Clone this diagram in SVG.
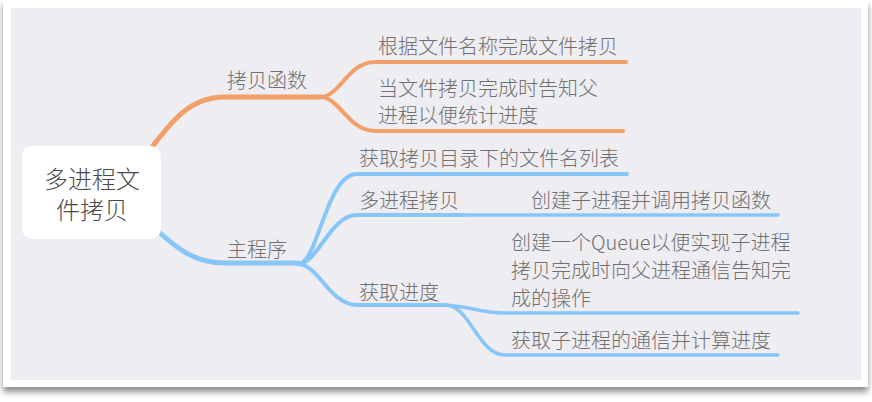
<svg xmlns="http://www.w3.org/2000/svg" width="872" height="402" viewBox="0 0 872 402">
  <defs>
    <filter id="shadow" x="-5%" y="-5%" width="110%" height="115%">
      <feDropShadow dx="0" dy="5" stdDeviation="3" flood-color="#000" flood-opacity="0.45"/>
    </filter>
    <style>
      .t { font-family: "Noto Sans CJK SC", "Noto Sans", sans-serif; font-size: 20px; font-weight: 300; fill: #707070; }
      .root { font-family: "Liberation Sans", "Noto Sans CJK SC", sans-serif; font-size: 24px; font-weight: 300; fill: #4a4a4a; text-anchor: middle; }
      .o { fill: none; stroke: #f39f6a; stroke-linecap: round; stroke-linejoin: round; }
      .b { fill: none; stroke: #88c6f7; stroke-linecap: round; stroke-linejoin: round; }
      .w5 { stroke-width: 5; }
      .w4 { stroke-width: 4; }
      .w3 { stroke-width: 3.5; }
    </style>
  </defs>
  <rect x="0" y="0" width="872" height="402" fill="#ffffff"/>
  <rect x="3" y="0" width="865" height="387" fill="#ffffff" filter="url(#shadow)"/>
  <rect x="11" y="8" width="850" height="372" fill="#eeedf2"/>

  <g id="connectors">
    <path class="o w5" d="M146,155 C172,120 190,97 225,97 L320,97"/>
    <path class="o w4" d="M320,97 C340,97 348,62 375,62 L626,62"/>
    <path class="o w4" d="M320,97 C340,97 348,131 375,131 L623,131"/>
    <path class="b w5" d="M150,224 C178,250 195,263 225,263 L298,263"/>
    <path class="b w4" d="M298,264 C318,264 326,174 357,174 L627,174"/>
    <path class="b w4" d="M298,264 C318,264 330,215 357,215 L465,215"/>
    <path class="b w3" d="M465,215 L778,215"/>
    <path class="b w4" d="M298,264 C318,264 330,305 357,305 L445,305"/>
    <path class="b w3" d="M440,305 C468,305 478,313 505,313 L798,313"/>
    <path class="b w3" d="M445,305 C470,305 478,355 505,355 L778,355"/>
  </g>

  <g id="root">
    <rect x="22" y="146" width="139" height="93" rx="10" fill="#ffffff"/>
    <text class="root" x="92" y="188">多进程文</text>
    <text class="root" x="92" y="219">件拷贝</text>
  </g>

  <g id="n-copyfunc"><text class="t" x="227" y="88">拷贝函数</text></g>
  <g id="n-copyfunc-1"><text class="t" x="378" y="54">根据文件名称完成文件拷贝</text></g>
  <g id="n-copyfunc-2">
    <text class="t" x="378" y="96">当文件拷贝完成时告知父</text>
    <text class="t" x="378" y="123">进程以便统计进度</text>
  </g>
  <g id="n-main"><text class="t" x="227" y="257">主程序</text></g>
  <g id="n-list"><text class="t" x="359" y="166">获取拷贝目录下的文件名列表</text></g>
  <g id="n-multi"><text class="t" x="359" y="208">多进程拷贝</text></g>
  <g id="n-multi-1"><text class="t" x="531" y="208">创建子进程并调用拷贝函数</text></g>
  <g id="n-progress"><text class="t" x="359" y="300">获取进度</text></g>
  <g id="n-progress-1">
    <text class="t" x="511" y="250">创建一个Queue以便实现子进程</text>
    <text class="t" x="511" y="278">拷贝完成时向父进程通信告知完</text>
    <text class="t" x="511" y="306">成的操作</text>
  </g>
  <g id="n-progress-2"><text class="t" x="511" y="348">获取子进程的通信并计算进度</text></g>
</svg>
